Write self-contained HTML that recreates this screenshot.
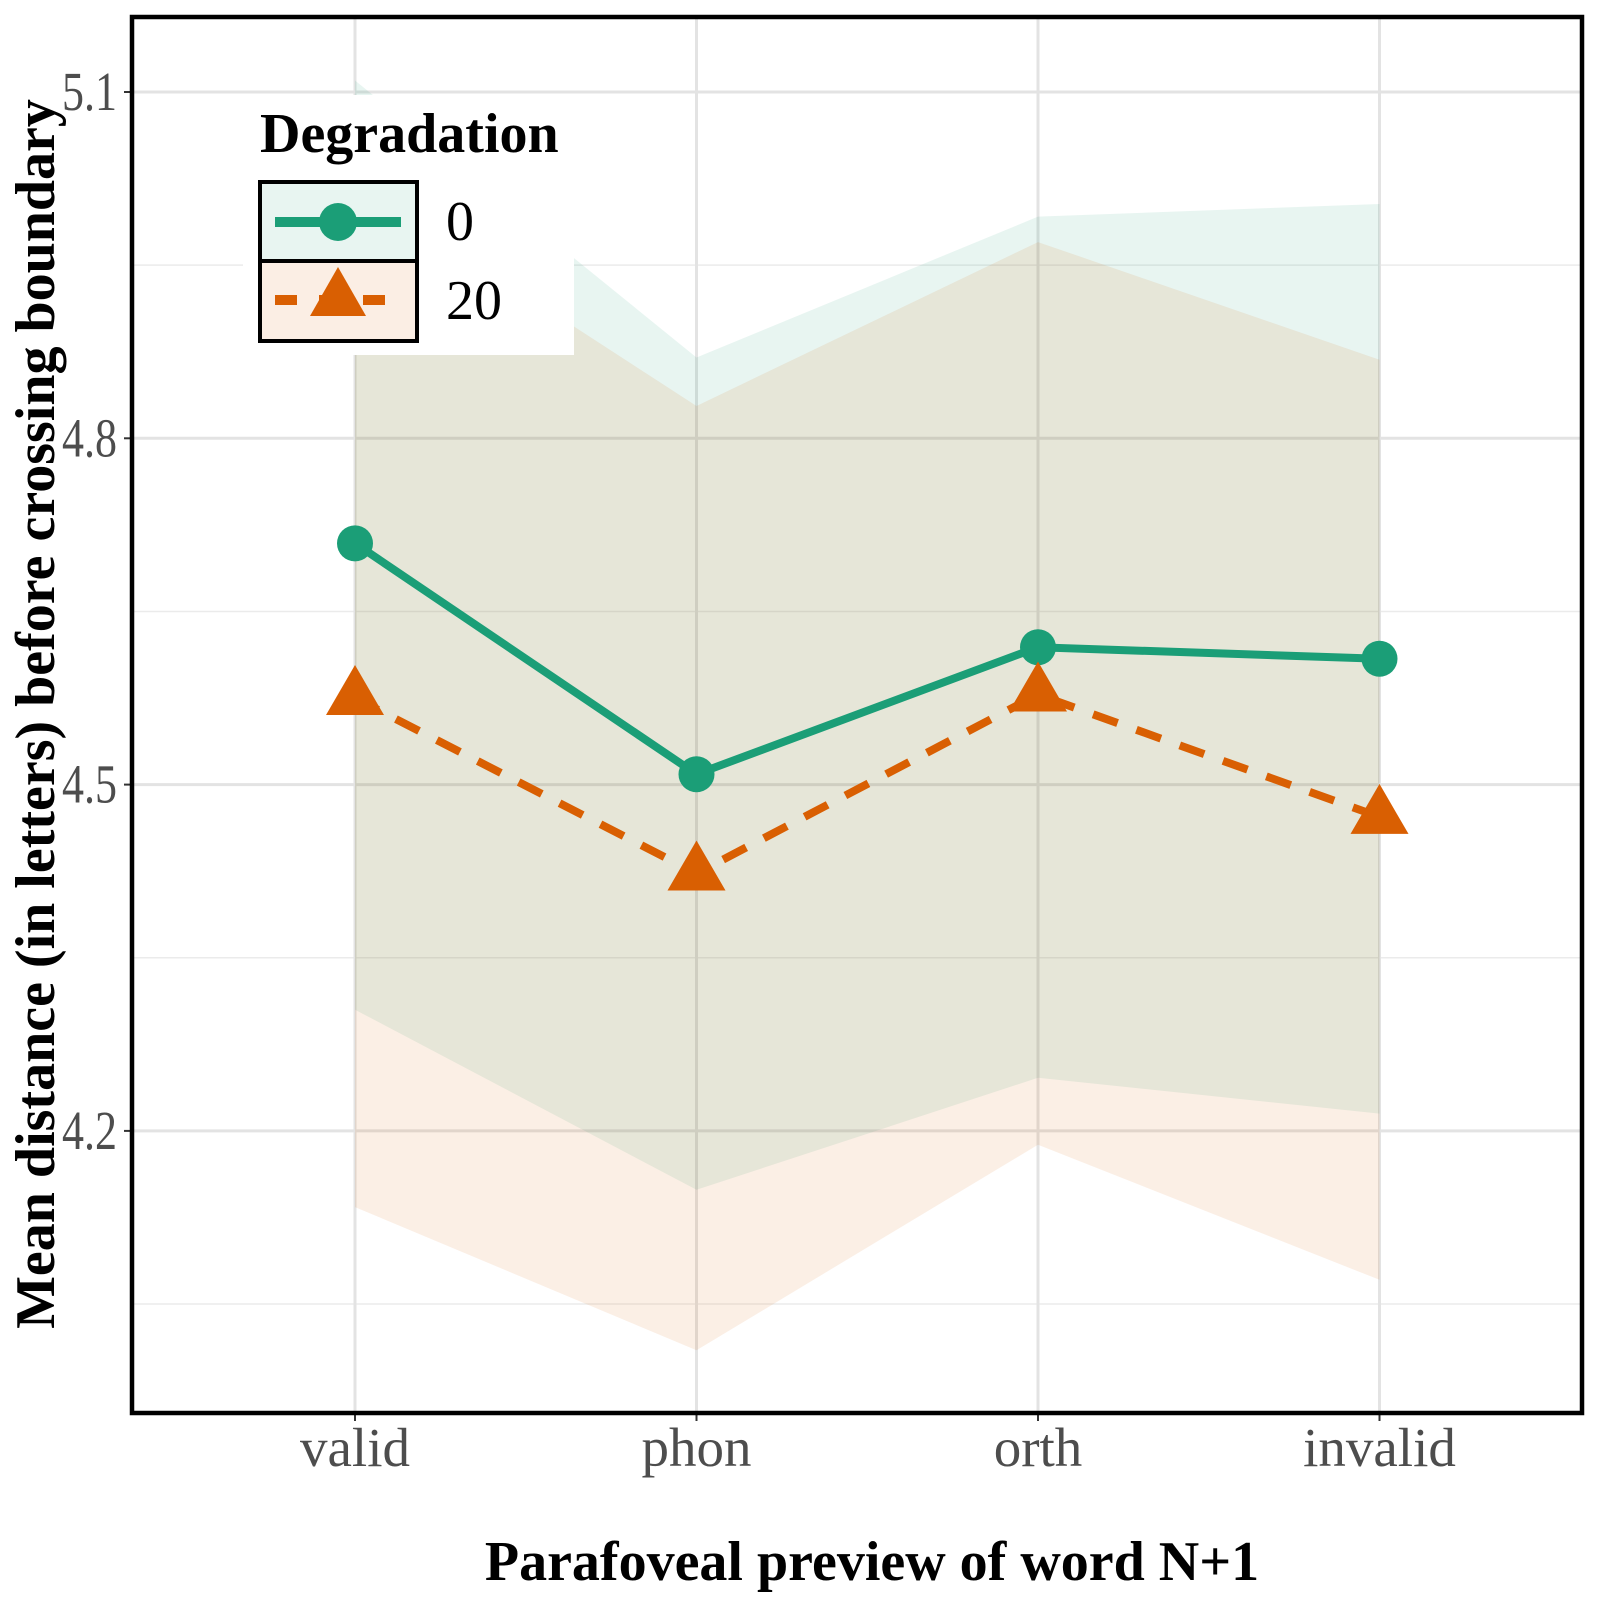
<!DOCTYPE html>
<html><head><meta charset="utf-8"><style>
html,body{margin:0;padding:0;background:#fff;}
svg text{font-family:"Liberation Serif",serif;}
</style></head><body>
<svg id="chart" width="1600" height="1600" viewBox="0 0 1600 1600" xmlns="http://www.w3.org/2000/svg">
<g id="grid"></g><g id="ribbons"></g><g id="lines"></g><g id="axes"></g>
<g id="legend">
  <rect x="243" y="95" width="331" height="260" fill="#fff"/>
  <text x="260" y="152" font-size="56" font-weight="bold" fill="#000">Degradation</text>
  <g>
    <rect x="260" y="182" width="157" height="79" fill="#e8f5f1" stroke="#000" stroke-width="4"/>
    <line x1="275" y1="222" x2="401" y2="222" stroke="#1b9e77" stroke-width="10"/>
    <circle cx="338" cy="222" r="19" fill="#1b9e77"/>
    <text x="446" y="240" font-size="56" fill="#000">0</text>
  </g>
  <g>
    <rect x="260" y="261" width="157" height="80" fill="#fbeee4" stroke="#000" stroke-width="4"/>
    <line x1="275" y1="300" x2="385" y2="300" stroke="#d95f02" stroke-width="10" stroke-dasharray="22,22"/>
    <polygon points="338,267 310,316 366,316" fill="#d95f02"/>
    <text x="446" y="319" font-size="56" fill="#000">20</text>
  </g>
</g>
</svg>
<script>
const categories=["valid","phon","orth","invalid"];
const mean0=[4.709,4.509,4.619,4.609];
const mean20=[4.575,4.423,4.578,4.472];
const upper0=[5.11,4.87,4.992,5.003];
const lower0=[4.305,4.149,4.246,4.215];
const upper20=[5.02,4.828,4.97,4.868];
const lower20=[4.134,4.010,4.188,4.071];
const yTicks=["4.2","4.5","4.8","5.1"];
const yMinor=[4.05,4.35,4.65,4.95];

const NS="http://www.w3.org/2000/svg";
const L=132,R=1582,T=17,B=1413;
function xs(i){return 355+i*341.5;}
function ys(v){return 92+(5.1-v)/0.3*346.3;}
function mk(tag,attrs,parent){const e=document.createElementNS(NS,tag);for(const k in attrs)e.setAttribute(k,attrs[k]);parent.appendChild(e);return e;}
const grid=document.getElementById('grid'),rib=document.getElementById('ribbons'),lines=document.getElementById('lines'),axes=document.getElementById('axes');
yMinor.forEach(v=>{const e=mk('line',{x1:L,x2:R,y1:ys(v),y2:ys(v),stroke:'#ebebeb','stroke-width':1.5},grid);

});
yTicks.forEach(t=>{const v=+t;const e=mk('line',{x1:L,x2:R,y1:ys(v),y2:ys(v),stroke:'#e3e3e3','stroke-width':3},grid);


const tk=mk('line',{x1:L-8,x2:L,y1:ys(v),y2:ys(v),stroke:'#333','stroke-width':2},axes);


const tx=mk('text',{x:62,y:ys(v)+18,'font-size':55,fill:'#4d4d4d',textLength:55,lengthAdjust:'spacingAndGlyphs'},axes);tx.textContent=t;

});
categories.forEach((c,i)=>{const e=mk('line',{x1:xs(i),x2:xs(i),y1:T,y2:B,stroke:'#e3e3e3','stroke-width':3},grid);


const tk=mk('line',{x1:xs(i),x2:xs(i),y1:B,y2:B+8,stroke:'#333','stroke-width':2},axes);


const tx=mk('text',{x:xs(i),y:1466,'font-size':55,fill:'#4d4d4d','text-anchor':'middle'},axes);tx.textContent=c;

});
function ribbon(up,lo,col,name){let p=up.map((v,i)=>xs(i)+','+ys(v));for(let i=lo.length-1;i>=0;i--)p.push(xs(i)+','+ys(lo[i]));
const e=mk('polygon',{points:p.join(' '),fill:col,'fill-opacity':0.1},rib);

}
ribbon(upper0,lower0,'#1b9e77','ribbon-0');
ribbon(upper20,lower20,'#d95f02','ribbon-20');
const cp=document.createElementNS(NS,'clipPath');cp.id='clip';mk('rect',{x:L,y:T,width:R-L,height:B-T},cp);document.getElementById('chart').prepend(cp);
rib.setAttribute('clip-path','url(#clip)');
const l0=mk('polyline',{points:mean0.map((v,i)=>xs(i)+','+ys(v)).join(' '),fill:'none',stroke:'#1b9e77','stroke-width':8},lines);


const l20=mk('polyline',{points:mean20.map((v,i)=>xs(i)+','+ys(v)).join(' '),fill:'none',stroke:'#d95f02','stroke-width':8,'stroke-dasharray':'26,20'},lines);


mean0.forEach((v,i)=>{const e=mk('circle',{cx:xs(i),cy:ys(v),r:18,fill:'#1b9e77'},lines);

});
mean20.forEach((v,i)=>{const x=xs(i),y=ys(v);const e=mk('polygon',{points:`${x},${y-33} ${x-29},${y+17} ${x+29},${y+17}`,fill:'#d95f02'},lines);

});
const fr=mk('rect',{x:L,y:T,width:R-L,height:B-T,fill:'none',stroke:'#000','stroke-width':4.5},axes);


const xt=mk('text',{x:872,y:1580,'font-size':56,'font-weight':'bold','text-anchor':'middle',fill:'#000'},axes);xt.textContent='Parafoveal preview of word N+1';


const yt=mk('text',{x:0,y:0,'font-size':56,'font-weight':'bold','text-anchor':'middle',fill:'#000',transform:'translate(54,714) rotate(-90)'},axes);yt.textContent='Mean distance (in letters) before crossing boundary';


</script>
</body></html>
